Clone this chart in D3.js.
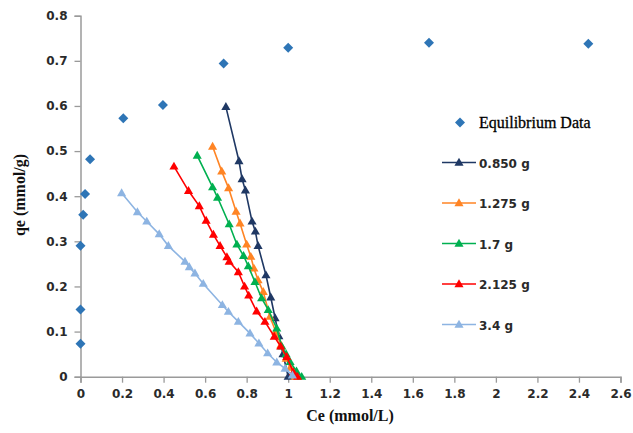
<!DOCTYPE html>
<html>
<head>
<meta charset="utf-8">
<script src="https://cdn.jsdelivr.net/npm/d3@7"></script>
<style>
  html, body { margin: 0; padding: 0; background: #fff; }
  svg { display: block; }
</style>
</head>
<body>
<svg id="chart" width="633" height="433"></svg>
<script>
// Equilibrium isotherm points (Ce in mmol/L, qe in mmol/g)
const eqCe = [0.0, 0.0, 0.0, 0.013, 0.022, 0.046, 0.206, 0.397, 0.689, 1.0, 1.678, 2.445];
const eqQe = [0.073, 0.149, 0.290, 0.359, 0.405, 0.482, 0.573, 0.602, 0.694, 0.729, 0.740, 0.738];

// Operating lines for each adsorbent dose
const doseLabels = ["0.850 g", "1.275 g", "1.7 g", "2.125 g", "3.4 g"];
const doseColors = ["#1f3864", "#ff8424", "#00b050", "#ff0000", "#8db4e2"];

const ce085 = [0.700, 0.763, 0.778, 0.794, 0.826, 0.842, 0.855, 0.893, 0.916, 0.937, 0.955, 0.975, 1.000];
const qe085 = [0.598, 0.478, 0.438, 0.413, 0.344, 0.322, 0.290, 0.225, 0.176, 0.130, 0.090, 0.050, 0.000];

const ce1275 = [0.636, 0.680, 0.713, 0.749, 0.768, 0.800, 0.820, 0.835, 0.855, 0.880, 0.912, 0.940, 0.965, 0.990, 1.010, 1.033];
const qe1275 = [0.510, 0.455, 0.418, 0.366, 0.340, 0.293, 0.266, 0.240, 0.214, 0.188, 0.133, 0.100, 0.070, 0.040, 0.020, 0.000];

const ce17 = [0.562, 0.636, 0.660, 0.716, 0.753, 0.785, 0.808, 0.840, 0.872, 0.904, 0.945, 0.969, 0.990, 1.009, 1.040, 1.065];
const qe17 = [0.490, 0.420, 0.397, 0.338, 0.293, 0.268, 0.245, 0.210, 0.174, 0.148, 0.107, 0.067, 0.050, 0.033, 0.012, 0.000];

const ce2125 = [0.450, 0.520, 0.572, 0.605, 0.640, 0.672, 0.705, 0.716, 0.760, 0.790, 0.810, 0.848, 0.888, 0.933, 0.964, 0.993, 1.025, 1.045];
const qe2125 = [0.466, 0.412, 0.378, 0.346, 0.315, 0.290, 0.265, 0.255, 0.232, 0.200, 0.180, 0.145, 0.122, 0.089, 0.067, 0.044, 0.010, 0.000];

const ce34 = [0.198, 0.274, 0.319, 0.379, 0.423, 0.503, 0.524, 0.551, 0.591, 0.683, 0.712, 0.760, 0.816, 0.859, 0.901, 0.945, 0.985, 1.020];
const qe34 = [0.407, 0.365, 0.344, 0.316, 0.290, 0.255, 0.243, 0.229, 0.206, 0.159, 0.144, 0.122, 0.096, 0.074, 0.052, 0.032, 0.018, 0.003];

const doseCe = [ce085, ce1275, ce17, ce2125, ce34];
const doseQe = [qe085, qe1275, qe17, qe2125, qe34];

const xTicks = [0, 0.2, 0.4, 0.6, 0.8, 1, 1.2, 1.4, 1.6, 1.8, 2, 2.2, 2.4, 2.6];
const yTicks = [0, 0.1, 0.2, 0.3, 0.4, 0.5, 0.6, 0.7, 0.8];

const svg = d3.select("#chart");

const x = d3.scaleLinear().domain([0, 2.6]).range([80.5, 620.5]);
const y = d3.scaleLinear().domain([0, 0.8]).range([376.7, 15.7]);

const axisColor = "#9a9a9a";
const labelFont = "DejaVu Sans, Verdana, sans-serif";

// x axis
const gx = svg.append("g")
  .attr("transform", `translate(0,${y(0)})`)
  .call(d3.axisBottom(x).tickValues(xTicks).tickSize(6).tickPadding(7)
    .tickFormat(d => String(d)));
// y axis
const gy = svg.append("g")
  .attr("transform", `translate(${x(0)},0)`)
  .call(d3.axisLeft(y).tickValues(yTicks).tickSize(6).tickPadding(7)
    .tickFormat(d => String(d)));

[gx, gy].forEach(g => {
  g.select(".domain").attr("stroke", axisColor).attr("stroke-width", 1.5);
  g.selectAll(".tick line").attr("stroke", axisColor).attr("stroke-width", 1.3);
  g.selectAll(".tick text")
    .attr("fill", "#2a2a2a")
    .style("font-family", labelFont)
    .style("font-size", "12px")
    .style("font-weight", "bold");
});

// axis titles
svg.append("text")
  .attr("x", 350).attr("y", 421)
  .attr("text-anchor", "middle")
  .style("font-family", "Liberation Serif, Times New Roman, serif")
  .style("font-weight", "bold")
  .style("font-size", "16px")
  .attr("fill", "#111")
  .text("Ce (mmol/L)");

svg.append("text")
  .attr("transform", "translate(25,195) rotate(-90)")
  .attr("text-anchor", "middle")
  .style("font-family", "Liberation Serif, Times New Roman, serif")
  .style("font-weight", "bold")
  .style("font-size", "16px")
  .attr("fill", "#111")
  .text("qe (mmol/g)");

const eqColor = "#2e75b6";
const diamond = d3.symbol().type(d3.symbolSquare).size(50);
const tri = d3.symbol().type(d3.symbolTriangle).size(36);

// equilibrium data
svg.append("g").selectAll("path")
  .data(eqCe.map((c, i) => [c, eqQe[i]]))
  .join("path")
  .attr("d", diamond)
  .attr("transform", d => `translate(${x(d[0])},${y(d[1])}) rotate(45)`)
  .attr("fill", eqColor);

// dose operating lines
const line = d3.line().x(d => x(d[0])).y(d => y(d[1]));
doseLabels.forEach((lab, k) => {
  const pts = doseCe[k].map((c, i) => [c, doseQe[k][i]]);
  const g = svg.append("g");
  g.append("path")
    .datum(pts)
    .attr("d", line)
    .attr("fill", "none")
    .attr("stroke", doseColors[k])
    .attr("stroke-width", 1.6);
  g.selectAll("path.m")
    .data(pts)
    .join("path")
    .attr("class", "m")
    .attr("d", tri)
    .attr("transform", d => `translate(${x(d[0])},${y(d[1]) + 0.5})`)
    .attr("fill", doseColors[k]);
});

// legend
const lg = svg.append("g");
lg.append("path")
  .attr("d", diamond)
  .attr("transform", "translate(460,122.5) rotate(45)")
  .attr("fill", eqColor);
lg.append("text")
  .attr("x", 479).attr("y", 128)
  .style("font-family", "Liberation Serif, Times New Roman, serif")
  .style("font-size", "16px")
  .attr("fill", "#000")
  .attr("stroke", "#000").attr("stroke-width", 0.3)
  .text("Equilibrium Data");

doseLabels.forEach((lab, k) => {
  const ly = 162.5 + k * 40.5;
  lg.append("line")
    .attr("x1", 442).attr("x2", 476)
    .attr("y1", ly).attr("y2", ly)
    .attr("stroke", doseColors[k]).attr("stroke-width", 1.6);
  lg.append("path")
    .attr("d", tri)
    .attr("transform", `translate(459,${ly + 0.5})`)
    .attr("fill", doseColors[k]);
  lg.append("text")
    .attr("x", 479).attr("y", ly + 5)
    .style("font-family", labelFont)
    .style("font-size", "12px")
    .style("font-weight", "bold")
    .attr("fill", "#2a2a2a")
    .text(lab);
});
</script>
</body>
</html>
